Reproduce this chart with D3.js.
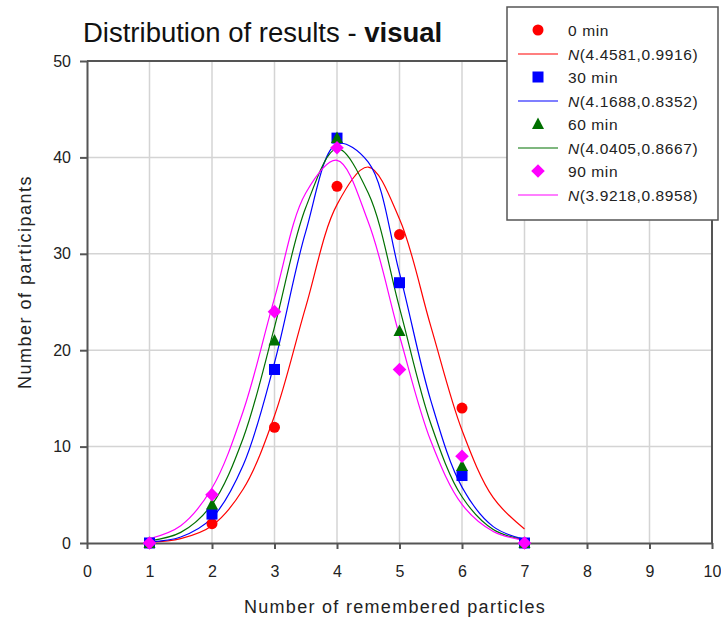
<!DOCTYPE html>
<html>
<head>
<meta charset="utf-8">
<script src="https://d3js.org/d3.v7.min.js"></script>
<style>
    body { margin: 0; background: #fff; }
    svg { display: block; font-family: 'Liberation Sans', Arial, sans-serif; }
</style>
</head>
<body>
<div id="chart"></div>
<script>
// remembered particles (x) and number of participants per session
var particles = [1, 2, 3, 4, 5, 6, 7];
var sessions = ["0 min", "30 min", "60 min", "90 min"];
var counts0  = [0, 2, 12, 37, 32, 14, 0];
var counts30 = [0, 3, 18, 42, 27, 7, 0];
var counts60 = [0, 4, 21, 42, 22, 8, 0];
var counts90 = [0, 5, 24, 41, 18, 9, 0];
// fitted normal distributions, as written in the legend
var fitMean  = [4.4581, 4.1688, 4.0405, 3.9218];
var fitSd    = [0.9916, 0.8352, 0.8667, 0.8958];
// fitted curves, at half steps from 1 to 7
var curveX   = [1, 1.5, 2, 2.5, 3, 3.5, 4, 4.5, 5, 5.5, 6, 6.5, 7];
var curve0   = [0.09, 0.46, 1.8, 5.6, 13.2, 24.5, 35.1, 39.0, 33.6, 22.5, 11.7, 4.7, 1.46];
var curve30  = [0.11, 0.62, 2.6, 8.1, 18.7, 32.3, 41.4, 39.5, 28.0, 14.8, 5.8, 1.7, 0.37];
var curve60  = [0.23, 1.1, 4.0, 10.9, 22.4, 34.8, 40.9, 36.3, 24.4, 12.4, 4.8, 1.4, 0.31];
var curve90  = [0.44, 1.8, 5.7, 13.7, 25.4, 36.3, 39.7, 33.3, 21.5, 10.6, 4.0, 1.2, 0.26];
var colors   = ["#ff0000", "#0000ff", "#007000", "#ff00ff"];
var xTicks = d3.range(0, 11);
var yTicks = [0, 10, 20, 30, 40, 50];

var allCounts = [counts0, counts30, counts60, counts90];
var allCurves = [curve0, curve30, curve60, curve90];

var svg = d3.select("#chart").append("svg")
    .attr("width", 721)
    .attr("height", 624);

var x = d3.scaleLinear().domain([0, 10]).range([87, 712]);
var y = d3.scaleLinear().domain([0, 50]).range([543, 61]);

//grid
svg.append("g").selectAll("line").data(xTicks.slice(1, -1)).enter().append("line")
    .attr("x1", d => x(d)).attr("x2", d => x(d))
    .attr("y1", y(50)).attr("y2", y(0))
    .style("stroke", "#d4d4d4").style("stroke-width", "1.5px");
svg.append("g").selectAll("line").data(yTicks.slice(1, -1)).enter().append("line")
    .attr("x1", x(0)).attr("x2", x(10))
    .attr("y1", d => y(d)).attr("y2", d => y(d))
    .style("stroke", "#d4d4d4").style("stroke-width", "1.5px");

//frame top + right
svg.append("path")
    .attr("d", "M" + x(0) + "," + y(50) + "H" + x(10) + "V" + y(0))
    .style("fill", "none").style("stroke", "#555").style("stroke-width", "2px");

//axes
var xAxis = d3.axisBottom(x).tickValues(xTicks).tickSize(6).tickPadding(17).tickSizeOuter(0);
var gx = svg.append("g").attr("transform", "translate(0," + y(0) + ")").call(xAxis);
var yAxis = d3.axisLeft(y).tickValues(yTicks).tickSize(7).tickPadding(9).tickSizeOuter(0);
var gy = svg.append("g").attr("transform", "translate(" + x(0) + ",0)").call(yAxis);
[gx, gy].forEach(function (g) {
    g.select(".domain").style("stroke", "#555").style("stroke-width", "2px");
    g.selectAll(".tick line").style("stroke", "#555").style("stroke-width", "2px");
    g.selectAll(".tick text").style("font-size", "16px").style("fill", "#222")
        .style("font-family", "'Liberation Sans', Arial, sans-serif");
});

//fitted curves
var line = d3.line()
    .x((d, j) => x(curveX[j]))
    .y(d => y(d))
    .curve(d3.curveCatmullRom.alpha(0.5));
allCurves.forEach(function (c, i) {
    svg.append("path")
        .datum(c)
        .attr("d", line)
        .style("fill", "none")
        .style("stroke", colors[i])
        .style("stroke-width", "1.2px");
});

//markers
function marker(g, i) {
    if (i == 0) {
        g.append("circle").attr("r", 5.5).style("fill", colors[i]);
    } else if (i == 1) {
        g.append("rect").attr("x", -5.5).attr("y", -5.5).attr("width", 11).attr("height", 11)
            .style("fill", colors[i]);
    } else if (i == 2) {
        g.append("path").attr("d", "M0,-6.5L6,5L-6,5Z").style("fill", colors[i]);
    } else {
        g.append("rect").attr("x", -4.8).attr("y", -4.8).attr("width", 9.6).attr("height", 9.6)
            .attr("transform", "rotate(45)")
            .style("fill", colors[i]);
    }
}
allCounts.forEach(function (cnt, i) {
    svg.append("g").selectAll("g").data(cnt).enter().append("g")
        .attr("transform", (d, j) => "translate(" + x(particles[j]) + "," + y(d) + ")")
        .each(function () { marker(d3.select(this), i); });
});

//title
var title = svg.append("text")
    .attr("x", 83).attr("y", 42)
    .style("font-size", "27.5px").style("fill", "#111");
title.append("tspan").text("Distribution of results - ");
title.append("tspan").style("font-weight", "bold").text("visual");

//axis titles
svg.append("text")
    .attr("x", 395).attr("y", 613)
    .attr("text-anchor", "middle")
    .style("font-size", "18px").style("letter-spacing", "1.3px").style("fill", "#222")
    .text("Number of remembered particles");
svg.append("text")
    .attr("transform", "translate(31,282) rotate(-90)")
    .attr("text-anchor", "middle")
    .style("font-size", "18px").style("letter-spacing", "1.5px").style("fill", "#222")
    .text("Number of participants");

//legend
svg.append("rect")
    .attr("x", 507).attr("y", 7).attr("width", 211).attr("height", 213)
    .style("fill", "#fff").style("stroke", "#555").style("stroke-width", "1.5px");
sessions.forEach(function (s, i) {
    var y0 = 31 + i * 47;
    marker(svg.append("g").attr("transform", "translate(538," + (y0 - 1) + ")"), i);
    svg.append("text")
        .attr("x", 568).attr("y", y0 + 5)
        .style("font-size", "15.5px").style("letter-spacing", "0.6px").style("fill", "#222")
        .text(s);
    svg.append("line")
        .attr("x1", 518).attr("x2", 558)
        .attr("y1", y0 + 23).attr("y2", y0 + 23)
        .style("stroke", colors[i]).style("stroke-width", "1.2px");
    var t = svg.append("text")
        .attr("x", 568).attr("y", y0 + 29)
        .style("font-size", "15.5px").style("letter-spacing", "0.6px").style("fill", "#222");
    t.append("tspan").style("font-style", "italic").text("N");
    t.append("tspan").text("(" + fitMean[i].toFixed(4) + "," + fitSd[i].toFixed(4) + ")");
});
</script>
</body>
</html>
